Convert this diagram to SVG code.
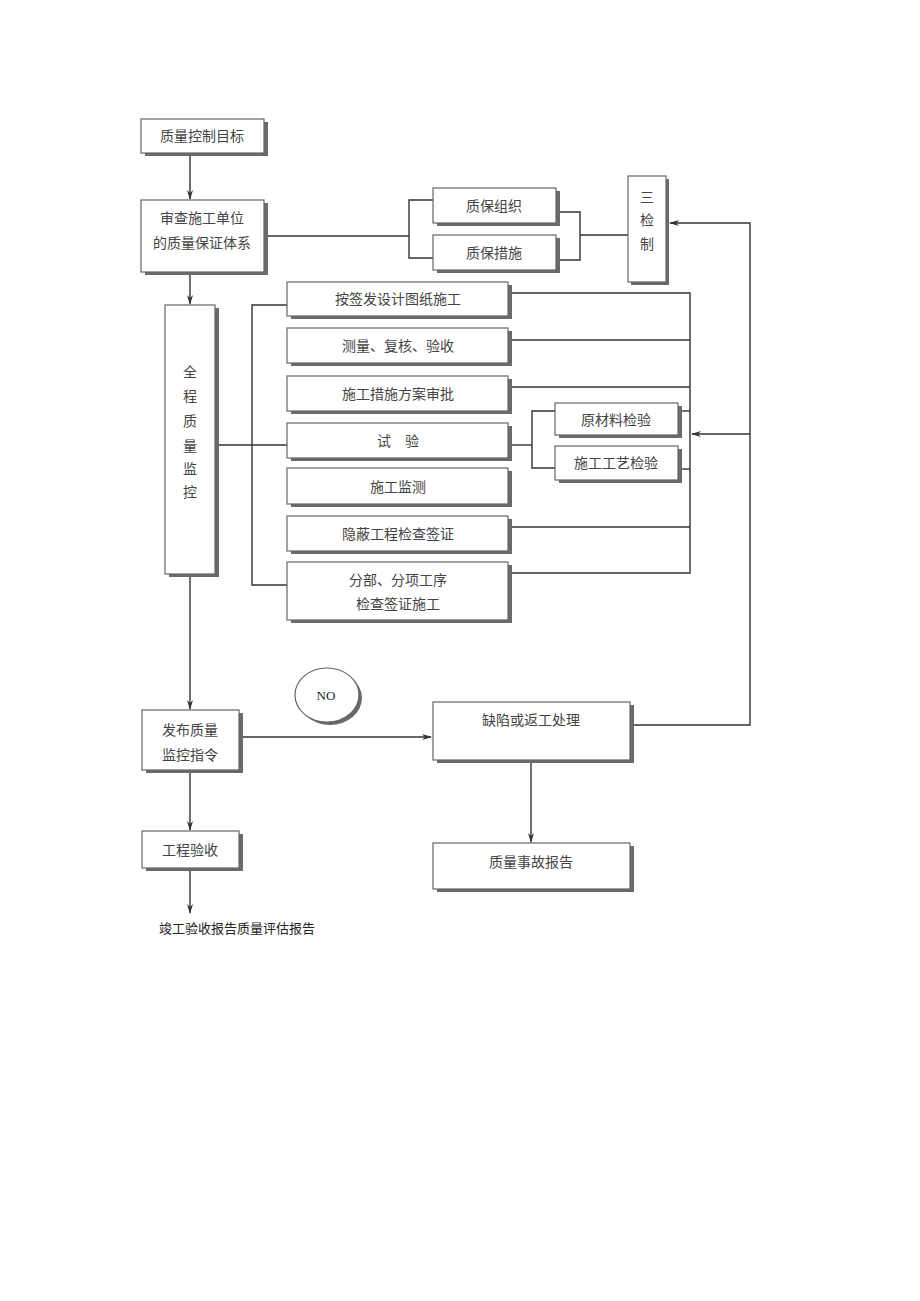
<svg xmlns="http://www.w3.org/2000/svg" width="920" height="1301" viewBox="0 0 920 1301">
<style>
.bx{fill:#fff;stroke:#666;stroke-width:1.2}
.sh{fill:#6a6a6a}
.t{font-family:"Liberation Serif","Noto Sans CJK SC",serif;font-size:14px;fill:#444;text-anchor:middle;dominant-baseline:central}
.ln{fill:none;stroke:#333;stroke-width:1.4}
</style>
<defs>
<marker id="ah" markerWidth="10" markerHeight="8" refX="9" refY="4" orient="auto" markerUnits="userSpaceOnUse">
<path d="M0,1 L10,4 L0,7 L3,4 Z" fill="#333"/>
</marker>
</defs>
<rect width="920" height="1301" fill="#fff"/>

<g id="connectors">
<line class="ln" x1="190" y1="155" x2="190" y2="199" marker-end="url(#ah)"/>
<polyline class="ln" points="264,236 409,236"/>
<polyline class="ln" points="433,200 409,200 409,258 433,258"/>
<polyline class="ln" points="557,212 580,212 580,260 557,260"/>
<line class="ln" x1="580" y1="235" x2="628" y2="235"/>
<line class="ln" x1="190" y1="275" x2="190" y2="304" marker-end="url(#ah)"/>
<polyline class="ln" points="287,305 252,305 252,585 287,585"/>
<line class="ln" x1="218" y1="445" x2="287" y2="445"/>
<polyline class="ln" points="511,293 690,293 690,573 511,573"/>
<line class="ln" x1="511" y1="340" x2="690" y2="340"/>
<line class="ln" x1="511" y1="387" x2="690" y2="387"/>
<line class="ln" x1="511" y1="527" x2="690" y2="527"/>
<line class="ln" x1="511" y1="445" x2="532" y2="445"/>
<polyline class="ln" points="555,411 532,411 532,468 555,468"/>
<line class="ln" x1="681" y1="411" x2="690" y2="411"/>
<line class="ln" x1="681" y1="469" x2="690" y2="469"/>
<line class="ln" x1="750" y1="434" x2="692" y2="434" marker-end="url(#ah)"/>
<polyline class="ln" points="632,725 750,725 750,223 670,223" marker-end="url(#ah)"/>
<line class="ln" x1="190" y1="577" x2="190" y2="709" marker-end="url(#ah)"/>
<line class="ln" x1="242" y1="737" x2="431" y2="737" marker-end="url(#ah)"/>
<line class="ln" x1="531" y1="763" x2="531" y2="842" marker-end="url(#ah)"/>
<line class="ln" x1="190" y1="773" x2="190" y2="830" marker-end="url(#ah)"/>
<line class="ln" x1="190" y1="871" x2="190" y2="913" marker-end="url(#ah)"/>
</g>

<g id="n1"><rect class="sh" x="145" y="122" width="123" height="34"/><rect class="bx" x="141" y="119" width="123" height="34"/><text class="t" x="202" y="136">质量控制目标</text></g>
<g id="n2"><rect class="sh" x="145" y="203" width="123" height="72"/><rect class="bx" x="141" y="200" width="123" height="72"/><text class="t" x="202" y="218">审查施工单位</text><text class="t" x="202" y="243">的质量保证体系</text></g>
<g id="n3"><rect class="sh" x="437" y="191" width="123" height="35"/><rect class="bx" x="433" y="188" width="123" height="35"/><text class="t" x="494" y="206">质保组织</text></g>
<g id="n4"><rect class="sh" x="437" y="238" width="123" height="35"/><rect class="bx" x="433" y="235" width="123" height="35"/><text class="t" x="494" y="253">质保措施</text></g>
<g id="n5"><rect class="sh" x="631" y="179" width="38" height="106"/><rect class="bx" x="628" y="176" width="38" height="106"/><text class="t" x="647" y="197">三</text><text class="t" x="647" y="220">检</text><text class="t" x="647" y="244">制</text></g>
<g id="n6"><rect class="sh" x="169" y="308" width="50" height="269"/><rect class="bx" x="165" y="305" width="50" height="269"/><text class="t" x="190" y="372">全</text><text class="t" x="190" y="396">程</text><text class="t" x="190" y="421">质</text><text class="t" x="190" y="446">量</text><text class="t" x="190" y="469">监</text><text class="t" x="190" y="492">控</text></g>
<g id="n7"><rect class="sh" x="291" y="285" width="221" height="34"/><rect class="bx" x="287" y="282" width="221" height="34"/><text class="t" x="398" y="299">按签发设计图纸施工</text></g>
<g id="n8"><rect class="sh" x="291" y="331" width="221" height="35"/><rect class="bx" x="287" y="328" width="221" height="35"/><text class="t" x="398" y="346">测量、复核、验收</text></g>
<g id="n9"><rect class="sh" x="291" y="379" width="221" height="35"/><rect class="bx" x="287" y="376" width="221" height="35"/><text class="t" x="398" y="394">施工措施方案审批</text></g>
<g id="n10"><rect class="sh" x="291" y="426" width="221" height="35"/><rect class="bx" x="287" y="423" width="221" height="35"/><text class="t" x="398" y="441">试　验</text></g>
<g id="n11"><rect class="sh" x="291" y="471" width="221" height="36"/><rect class="bx" x="287" y="468" width="221" height="36"/><text class="t" x="398" y="487">施工监测</text></g>
<g id="n12"><rect class="sh" x="291" y="519" width="221" height="35"/><rect class="bx" x="287" y="516" width="221" height="35"/><text class="t" x="398" y="534">隐蔽工程检查签证</text></g>
<g id="n13"><rect class="sh" x="291" y="565" width="221" height="58"/><rect class="bx" x="287" y="562" width="221" height="58"/><text class="t" x="398" y="580">分部、分项工序</text><text class="t" x="398" y="604">检查签证施工</text></g>
<g id="n14"><rect class="sh" x="559" y="406" width="123" height="32"/><rect class="bx" x="555" y="403" width="123" height="32"/><text class="t" x="616" y="420">原材料检验</text></g>
<g id="n15"><rect class="sh" x="559" y="449" width="123" height="34"/><rect class="bx" x="555" y="446" width="123" height="34"/><text class="t" x="616" y="463">施工工艺检验</text></g>
<g id="n16"><ellipse class="sh" cx="330" cy="698" rx="32" ry="27"/><ellipse class="bx" cx="327" cy="695" rx="32" ry="27"/><text class="t" x="326" y="695" style="font-size:13px;fill:#222">NO</text></g>
<g id="n17"><rect class="sh" x="146" y="713" width="97" height="60"/><rect class="bx" x="142" y="710" width="97" height="60"/><text class="t" x="190" y="730">发布质量</text><text class="t" x="190" y="755">监控指令</text></g>
<g id="n18"><rect class="sh" x="437" y="705" width="197" height="58"/><rect class="bx" x="433" y="702" width="197" height="58"/><text class="t" x="531" y="720">缺陷或返工处理</text></g>
<g id="n19"><rect class="sh" x="437" y="846" width="197" height="46"/><rect class="bx" x="433" y="843" width="197" height="46"/><text class="t" x="531" y="862">质量事故报告</text></g>
<g id="n20"><rect class="sh" x="146" y="834" width="97" height="37"/><rect class="bx" x="142" y="831" width="97" height="37"/><text class="t" x="190" y="850">工程验收</text></g>
<g id="n21"><text class="t" x="237" y="928" style="fill:#222;font-size:13px">竣工验收报告质量评估报告</text></g>
</svg>
